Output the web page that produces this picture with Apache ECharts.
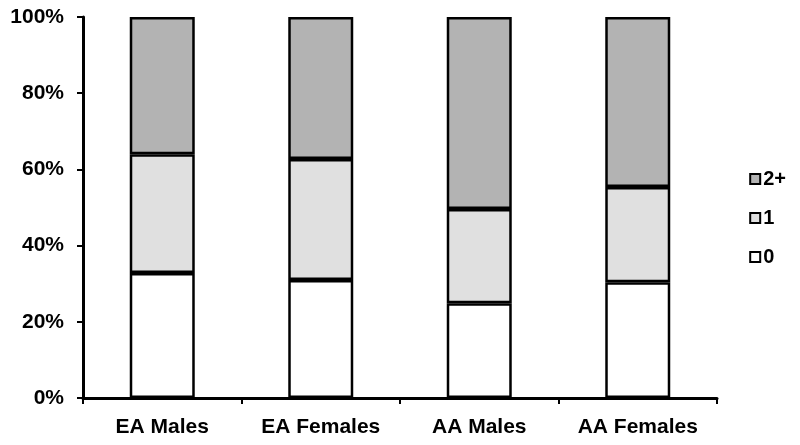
<!DOCTYPE html>
<html>
<head>
<meta charset="utf-8">
<script src="https://cdn.jsdelivr.net/npm/echarts@6/dist/echarts.min.js"></script>
<style>html,body{margin:0;padding:0;background:#fff}#c{width:800px;height:445px}</style>
</head>
<body>
<div id="c"></div>
<script>
var categories = ['EA Males', 'EA Females', 'AA Males', 'AA Females'];
var zero = [32.8, 31.0, 24.9, 30.4];
var one = [31.2, 31.7, 24.7, 25.0];
var twoPlus = [36.0, 37.3, 50.4, 44.6];
var yTicks = [0, 20, 40, 60, 80, 100];

var font = '"Liberation Sans", Arial, sans-serif';
var chart = echarts.init(document.getElementById('c'));
function mk(name, data, color) {
  return {
    name: name, type: 'bar', stack: 'all', data: data, barWidth: '41%',
    itemStyle: { color: color, borderColor: '#000', borderWidth: 2.5 },
    emphasis: { disabled: true }
  };
}
chart.setOption({
  animation: false,
  backgroundColor: '#fff',
  grid: { left: 83, right: 83, top: 17, bottom: 47, containLabel: false },
  legend: {
    orient: 'vertical', right: 9, top: 164,
    data: ['2+', '1', '0'],
    icon: 'rect', itemWidth: 10, itemHeight: 10, itemGap: 19,
    textStyle: { fontFamily: font, fontWeight: 'bold', fontSize: 20, color: '#000', padding: [0, 0, 0, -2] },
    itemStyle: { borderColor: '#000', borderWidth: 2 }
  },
  xAxis: {
    type: 'category', data: categories,
    axisLine: { lineStyle: { color: '#000', width: 3 } },
    axisTick: { show: true, length: 6, lineStyle: { color: '#000', width: 2 } },
    axisLabel: { fontFamily: font, fontWeight: 'bold', fontSize: 21, color: '#000', margin: 19 }
  },
  yAxis: {
    type: 'value', min: 0, max: 100, interval: 20,
    axisLine: { show: true, lineStyle: { color: '#000', width: 3 } },
    axisTick: { show: true, length: 6, lineStyle: { color: '#000', width: 2 } },
    splitLine: { show: false },
    axisLabel: {
      fontFamily: font, fontWeight: 'bold', fontSize: 21, color: '#000', margin: 19,
      formatter: function (v) { return yTicks.indexOf(v) >= 0 ? v + '%' : ''; }
    }
  },
  series: [
    mk('0', zero, '#ffffff'),
    mk('1', one, '#e0e0e0'),
    mk('2+', twoPlus, '#b3b3b3')
  ]
});
</script>
</body>
</html>
